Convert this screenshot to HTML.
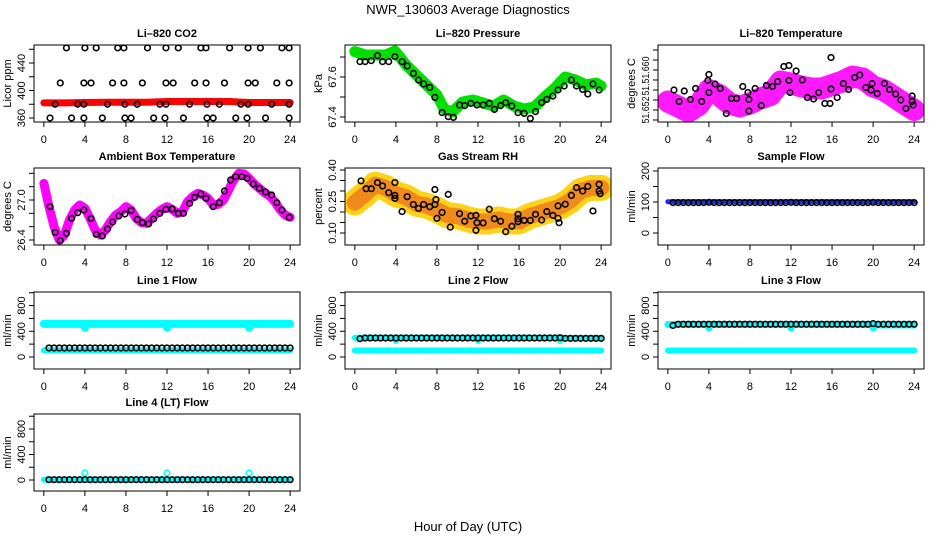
<!DOCTYPE html>
<html><head><meta charset="utf-8">
<style>
html,body{margin:0;padding:0;background:#fff;}
svg{display:block;font-family:"Liberation Sans",sans-serif;}
</style></head>
<body>
<svg id="chart" width="936" height="540" viewBox="0 0 936 540">
<text x="468" y="14" text-anchor="middle" font-size="13">NWR_130603  Average Diagnostics</text>
<text x="468" y="531" text-anchor="middle" font-size="13">Hour of Day (UTC)</text>
</svg>
<script>
// ---------- data ----------
const xTicks = [0,4,8,12,16,20,24];
// CO2
const co2BandHours = [0,2,4,6,8,10,12,14,16,18,20,22,24];
const co2BandVals = [382,382,382.5,383,383,383,384,384,384,384,382.5,382.5,382.5];
const co2PtHours = [2.2,4.0,5.1,7.2,7.8,10.1,11.9,13.1,15.3,15.8,18.1,19.9,21.1,23.2,23.9,
 1.6,3.9,4.6,6.7,7.8,9.6,11.9,12.6,14.7,15.8,17.6,19.9,20.6,22.7,23.9,
 1.1,3.3,3.9,6.2,7.9,9.1,11.3,11.9,14.2,15.9,17.1,19.2,19.9,22.2,23.9,
 0.6,2.7,3.9,5.7,7.9,8.5,10.7,11.8,13.6,15.9,16.5,18.7,19.8,21.6,23.9];
const co2PtVals = [462,462,462,462,462,462,462,462,462,462,462,462,462,462,462,
 411,411,411,411,411,411,411,411,411,411,411,411,411,411,411,
 380,380,380,380,380,380,380,380,380,380,380,380,380,380,380,
 360,360,360,360,360,360,360,360,360,360,360,360,360,360,360];
// Pressure
const presBandHours = [0,1,2,3,3.9,5,6,7,8,8.7,9.5,10.5,11.5,12.5,13.5,14.5,15.5,16.5,17.5,18.5,19.5,20.5,21.5,22.5,23.5,24];
const presBandVals = [67.727,67.71,67.71,67.71,67.73,67.66,67.61,67.56,67.51,67.44,67.425,67.475,67.485,67.47,67.455,67.485,67.455,67.44,67.45,67.50,67.545,67.60,67.585,67.56,67.57,67.555];
const presPtHours = [0.5,1,1.6,2.2,2.7,3.3,3.9,4.6,5.1,5.7,6.2,6.7,7.3,7.8,8.5,9.1,9.6,10.2,10.7,11.3,11.9,12.5,13.1,13.6,14.2,14.7,15.3,15.9,16.5,17.1,17.6,18.2,18.7,19.3,19.8,20.4,21.1,21.6,22.2,22.7,23.2,23.8];
const presPtVals = [67.677,67.677,67.682,67.707,67.677,67.677,67.702,67.677,67.655,67.618,67.585,67.565,67.548,67.498,67.422,67.402,67.398,67.460,67.457,67.468,67.460,67.460,67.468,67.438,67.457,67.472,67.455,67.422,67.418,67.393,67.427,67.472,67.488,67.505,67.535,67.555,67.585,67.555,67.538,67.515,67.565,67.535];
// Li-820 temperature
const tempBandHours = [0,1,2,3,4,5,6,7,8,9,10,11,12,13,14,15,16,17,18,19,20,21,22,23,24];
const tempBandVals = [51.6537,51.6527,51.6517,51.6530,51.6560,51.6550,51.6533,51.6527,51.6533,51.6543,51.6550,51.6577,51.6573,51.6567,51.6563,51.6563,51.6570,51.6577,51.6587,51.6583,51.6567,51.6560,51.6547,51.6533,51.6520];
const tempPtHours = [0.6,1.1,1.6,2.2,2.7,3.3,3.9,4.0,4.0,4.6,5.1,5.7,6.2,6.7,7.3,7.8,7.9,7.9,8.5,9.1,9.6,10.2,10.7,11.3,11.8,11.8,11.9,12.5,13.1,13.6,14.2,14.7,15.3,15.8,15.9,15.9,16.5,17.1,17.6,18.2,18.7,19.3,19.8,19.9,20.4,21.1,21.6,22.2,22.7,23.2,23.8,23.9,23.8];
const tempPtVals = [51.6560,51.6537,51.6558,51.6541,51.6563,51.6537,51.6579,51.6591,51.6555,51.6572,51.6563,51.6513,51.6543,51.6543,51.6567,51.6555,51.6541,51.6518,51.6563,51.6529,51.6569,51.6567,51.6577,51.6607,51.6609,51.6579,51.6555,51.6598,51.6580,51.6545,51.6542,51.6555,51.6533,51.6533,51.6625,51.6562,51.6545,51.6573,51.6561,51.6585,51.6590,51.6565,51.6560,51.6573,51.6553,51.6573,51.6561,51.6552,51.6540,51.6523,51.6548,51.6530,51.6537];
// Ambient
const ambBandHours = [0,0.5,1,1.5,2,2.5,3,3.5,4,4.5,5,5.5,6,6.5,7,7.5,8,8.5,9,9.5,10,10.5,11,11.5,12,12.5,13,13.5,14,14.5,15,15.5,16,16.5,17,17.5,18,18.5,19,19.5,20,20.5,21,21.5,22,22.5,23,23.5,24];
const ambBandVals = [27.25,26.90,26.60,26.40,26.475,26.70,26.85,26.925,26.875,26.725,26.55,26.475,26.55,26.675,26.775,26.825,26.90,26.85,26.725,26.66,26.65,26.725,26.80,26.86,26.90,26.86,26.80,26.825,26.975,27.05,27.10,27.075,27.025,26.925,26.935,27.00,27.15,27.30,27.40,27.39,27.325,27.24,27.175,27.11,27.06,26.975,26.86,26.775,26.74];
const ambPtHours = [0.6,1.1,1.6,2.2,2.7,3.3,3.9,4.6,5.1,5.7,6.2,6.7,7.3,7.9,8.5,9.1,9.6,10.2,10.7,11.3,11.9,12.5,13.1,13.6,14.2,14.7,15.3,15.8,16.5,17.1,17.6,18.2,18.7,19.3,19.8,20.4,21.0,21.6,22.2,22.7,23.2,23.9];
const ambPtVals = [26.90,26.515,26.39,26.50,26.725,26.81,26.85,26.725,26.485,26.46,26.565,26.67,26.76,26.79,26.845,26.71,26.66,26.64,26.715,26.80,26.86,26.865,26.80,26.80,26.95,27.04,27.09,27.025,26.90,26.96,27.135,27.30,27.35,27.35,27.325,27.24,27.175,27.12,27.075,26.96,26.85,26.74];
// Gas stream RH
const rhBandHours = [0,1,2,3,4,5,6,7,8,9,10,11,12,13,14,15,16,17,18,19,20,21,22,23,24];
const rhBandVals = [0.245,0.285,0.33,0.315,0.285,0.27,0.24,0.23,0.21,0.185,0.18,0.165,0.155,0.155,0.165,0.155,0.155,0.18,0.195,0.21,0.225,0.255,0.30,0.315,0.315];
const rhPtHours = [0.6,1.1,1.6,2.2,2.7,3.3,3.9,3.9,3.9,4.6,5.1,5.7,6.2,6.7,7.3,7.8,7.9,7.8,8.0,8.5,9.1,9.3,10.2,10.7,11.3,11.8,11.9,11.8,12.5,13.1,13.6,14.2,14.7,15.3,15.9,15.9,15.9,16.5,17.1,17.6,18.2,18.7,19.3,19.8,19.8,19.9,20.5,21.1,21.6,22.2,22.7,23.2,23.8,23.8,23.9];
const rhPtVals = [0.348,0.311,0.311,0.340,0.324,0.292,0.340,0.279,0.265,0.202,0.273,0.236,0.217,0.236,0.225,0.307,0.259,0.236,0.170,0.198,0.284,0.128,0.192,0.156,0.181,0.184,0.149,0.113,0.148,0.213,0.168,0.156,0.106,0.132,0.189,0.168,0.154,0.160,0.160,0.189,0.162,0.202,0.184,0.229,0.170,0.149,0.237,0.279,0.316,0.300,0.322,0.205,0.332,0.300,0.287];
// Flows (shared hours for black averages)
const flowHours = [0.5,1,1.5,2,2.5,3,3.5,4,4.5,5,5.5,6,6.5,7,7.5,8,8.5,9,9.5,10,10.5,11,11.5,12,12.5,13,13.5,14,14.5,15,15.5,16,16.5,17,17.5,18,18.5,19,19.5,20,20.5,21,21.5,22,22.5,23,23.5,24];
const sampleBandHours = [0,24];
const sampleBandVals = [101,101];
const samplePtVals = [98,98,98,98,98,98,98,99,98,98,98,98,98,98,98,98,98,98,98,98,98,98,98,99,98,98,98,98,98,98,98,98,98,98,98,98,98,98,98,99,98,98,98,98,98,98,98,98];
const line1HighHours = [0,3.9,4.0,4.1,11.9,12.0,12.1,19.9,20.0,20.1,24];
const line1HighVals = [515,515,455,515,515,455,515,515,455,515,515];
const line1LowHours = [0,24];
const line1LowVals = [105,105];
const line1PtVals = [140,140,140,140,140,140,140,140,140,140,140,140,140,140,140,140,140,140,140,140,140,140,140,140,140,140,140,140,140,140,140,140,140,140,140,140,140,140,140,140,140,140,140,140,140,140,140,140];
const line2HighHours = [0,3.9,4.0,4.1,11.9,12.0,12.1,19.9,20.0,20.1,24];
const line2HighVals = [300,300,250,300,300,250,300,300,250,290,290];
const line2LowHours = [0,24];
const line2LowVals = [100,100];
const line2PtVals = [285,295,295,295,295,295,295,295,295,295,295,295,295,295,295,295,295,295,295,295,295,295,295,295,295,295,295,295,295,295,295,295,295,295,295,295,295,295,295,300,290,290,290,290,290,290,290,290];
const line3HighHours = [0,3.9,4.0,4.1,11.9,12.0,12.1,19.9,20.0,20.1,24];
const line3HighVals = [505,505,450,505,505,450,505,505,450,500,500];
const line3LowHours = [0,24];
const line3LowVals = [100,100];
const line3PtVals = [490,510,510,510,510,510,510,510,510,510,510,510,510,510,510,510,510,510,510,510,510,510,510,510,510,510,510,510,510,510,510,510,510,510,510,510,510,510,510,520,510,510,510,510,510,510,510,510];
const line4LowHours = [0,24];
const line4LowVals = [5,5];
const line4SpikeHours = [4,12,20];
const line4SpikeVals = [110,110,110];
const line4PtVals = [5,5,5,5,5,5,5,5,5,5,5,5,5,5,5,5,5,5,5,5,5,5,5,5,5,5,5,5,5,5,5,5,5,5,5,5,5,5,5,5,5,5,5,5,5,5,5,5];

// ---------- drawing ----------
const NS = 'http://www.w3.org/2000/svg';
const svg = document.getElementById('chart');
function mk(tag, attrs, parent){
  const e = document.createElementNS(NS, tag);
  for (const k in attrs) e.setAttribute(k, attrs[k]);
  (parent||svg).appendChild(e);
  return e;
}
const colL = [34, 345, 658], colW = 266;
const rowT = [45, 168, 292, 414], rowH = 77;

function panel(key, col, row, title, ylab, ymin, ymax, ticks, labels, series, lblSize){
  const L = colL[col], T = rowT[row], W = colW, H = rowH;
  const g = mk('g', {});
  
  
  const xs = h => L + (h + 0.96) / 25.92 * W;
  const ys = v => T + H - (v - ymin) / (ymax - ymin) * H;
  const clipId = 'clip-' + key;
  const cp = mk('clipPath', {id: clipId}, g);
  mk('rect', {x: L, y: T, width: W, height: H}, cp);
  const plot = mk('g', {'clip-path': 'url(#' + clipId + ')'}, g);
  
  
  series.forEach(s => {
    if (s.type === 'band') {
      const p = mk('polyline', {points: s.h.map((h,i) => xs(h) + ',' + ys(s.v[i])).join(' '),
        fill: 'none', stroke: s.color, 'stroke-width': s.w, 'stroke-linejoin': 'round', 'stroke-linecap': 'round', opacity: s.op || 1}, plot);
      
      
    } else {
      const sg = mk('g', {}, plot);
      
      
      s.h.forEach((h,i) => {
        const c = mk('circle', {cx: xs(h), cy: ys(s.v[i]), r: s.r || 2.8, fill: 'none', stroke: s.color, 'stroke-width': s.sw || 1.6}, sg);
        
        
      });
    }
  });
  const box = mk('rect', {x: L, y: T, width: W, height: H, fill: 'none', stroke: '#000', 'stroke-width': 1}, g);
  
  
  // x axis
  const xa = mk('g', {}, g);
  
  
  xTicks.forEach(t => {
    mk('line', {x1: xs(t), x2: xs(t), y1: T + H, y2: T + H + 5, stroke: '#000'}, xa);
    const tx = mk('text', {x: xs(t), y: T + H + 21, 'text-anchor': 'middle', 'font-size': 11}, xa);
    tx.textContent = t;
    
    
  });
  // y axis
  const ya = mk('g', {}, g);
  
  
  ticks.forEach(t => {
    mk('line', {x1: L - 5, x2: L, y1: ys(t), y2: ys(t), stroke: '#000'}, ya);
  });
  labels.forEach(lb => {
    const y = ys(lb[0]);
    const attrs = {x: L - 9, y: y, 'text-anchor': 'middle', 'font-size': lblSize || 11, transform: 'rotate(-90 ' + (L - 9) + ' ' + y + ')'};
    if (lb[2]) { attrs.textLength = lb[2]; attrs.lengthAdjust = 'spacingAndGlyphs'; }
    const tx = mk('text', attrs, ya);
    tx.textContent = lb[1];
    
    
  });
  const yt = mk('text', {x: L - 23, y: T + H / 2, 'text-anchor': 'middle', 'font-size': 11, transform: 'rotate(-90 ' + (L - 23) + ' ' + (T + H / 2) + ')'}, g);
  yt.textContent = ylab;
  
  
  const tt = mk('text', {x: L + W / 2, y: T - 8, 'text-anchor': 'middle', 'font-size': 11, 'font-weight': 'bold'}, g);
  tt.textContent = title;
  
  
}

const cyan = '#00ffff';
const flowTicks = [0,200,400,600,800,1000];
const flowLabels = [[0,'0'],[400,'400'],[800,'800']];

panel('co2', 0, 0, 'Li\u2013820 CO2', 'Licor ppm', 354.2, 466.2, [360,380,400,420,440,460], [[360,'360'],[400,'400'],[440,'440']], [
  {type:'band', name:'co2-raw-band', h:co2BandHours, v:co2BandVals, color:'#ff0000', w:7},
  {type:'pts', name:'co2-averages', h:co2PtHours, v:co2PtVals, color:'#000'}]);
panel('pressure', 1, 0, 'Li\u2013820 Pressure', 'kPa', 67.375, 67.76, [67.4,67.5,67.6,67.7], [[67.4,'67.4'],[67.6,'67.6']], [
  {type:'band', name:'pressure-raw-band', h:presBandHours, v:presBandVals, color:'#00e000', w:11},
  {type:'pts', name:'pressure-averages', h:presPtHours, v:presPtVals, color:'#000'}]);
panel('temperature', 2, 0, 'Li\u2013820 Temperature', 'degrees C', 51.6496, 51.665, [51.650,51.652,51.654,51.656,51.658,51.660,51.662,51.664], [[51.652,'51.652',27],[51.6561,'51.',12],[51.660,'51.660',27]], [
  {type:'band', name:'temperature-raw-band', h:tempBandHours, v:tempBandVals, color:'#ff00ff', w:22, op:0.9},
  {type:'pts', name:'temperature-averages', h:tempPtHours, v:tempPtVals, color:'#000'}], 10);
panel('ambient', 0, 1, 'Ambient Box Temperature', 'degrees C', 26.325, 27.48, [26.4,26.6,26.8,27.0,27.2,27.4], [[26.4,'26.4'],[27.0,'27.0']], [
  {type:'band', name:'ambient-raw-band', h:ambBandHours, v:ambBandVals, color:'#ff00ff', w:9},
  {type:'pts', name:'ambient-averages', h:ambPtHours, v:ambPtVals, color:'#000'}]);
panel('rh', 1, 1, 'Gas Stream RH', 'percent', 0.0429, 0.4095, [0.10,0.15,0.20,0.25,0.30,0.35,0.40], [[0.10,'0.10'],[0.25,'0.25'],[0.40,'0.40']], [
  {type:'band', name:'rh-raw-outer', h:rhBandHours, v:rhBandVals, color:'#ffd21a', w:26},
  {type:'band', name:'rh-raw-inner', h:rhBandHours, v:rhBandVals, color:'#f08a1a', w:16},
  {type:'pts', name:'rh-averages', h:rhPtHours, v:rhPtVals, color:'#000'}]);
panel('sample-flow', 2, 1, 'Sample Flow', 'ml/min', -38.7, 209.7, [0,50,100,150,200], [[0,'0'],[100,'100'],[200,'200']], [
  {type:'band', name:'sample-flow-raw', h:sampleBandHours, v:sampleBandVals, color:'#1030ff', w:5},
  {type:'pts', name:'sample-flow-averages', h:flowHours, v:samplePtVals, color:'#000'}]);
panel('line1', 0, 2, 'Line 1 Flow', 'ml/min', -187, 1011, flowTicks, flowLabels, [
  {type:'band', name:'line1-high-raw', h:line1HighHours, v:line1HighVals, color:cyan, w:8},
  {type:'band', name:'line1-low-raw', h:line1LowHours, v:line1LowVals, color:cyan, w:6},
  {type:'pts', name:'line1-averages', h:flowHours, v:line1PtVals, color:'#000'}]);
panel('line2', 1, 2, 'Line 2 Flow', 'ml/min', -187, 1011, flowTicks, flowLabels, [
  {type:'band', name:'line2-high-raw', h:line2HighHours, v:line2HighVals, color:cyan, w:6},
  {type:'band', name:'line2-low-raw', h:line2LowHours, v:line2LowVals, color:cyan, w:6},
  {type:'pts', name:'line2-averages', h:flowHours, v:line2PtVals, color:'#000'}]);
panel('line3', 2, 2, 'Line 3 Flow', 'ml/min', -187, 1011, flowTicks, flowLabels, [
  {type:'band', name:'line3-high-raw', h:line3HighHours, v:line3HighVals, color:cyan, w:7},
  {type:'band', name:'line3-low-raw', h:line3LowHours, v:line3LowVals, color:cyan, w:6},
  {type:'pts', name:'line3-averages', h:flowHours, v:line3PtVals, color:'#000'}]);
panel('line4', 0, 3, 'Line 4 (LT) Flow', 'ml/min', -172.5, 1035, flowTicks, flowLabels, [
  {type:'band', name:'line4-raw', h:line4LowHours, v:line4LowVals, color:cyan, w:6},
  {type:'pts', name:'line4-spikes', h:line4SpikeHours, v:line4SpikeVals, color:cyan},
  {type:'pts', name:'line4-averages', h:flowHours, v:line4PtVals, color:'#000'}]);
</script>
</body></html>
